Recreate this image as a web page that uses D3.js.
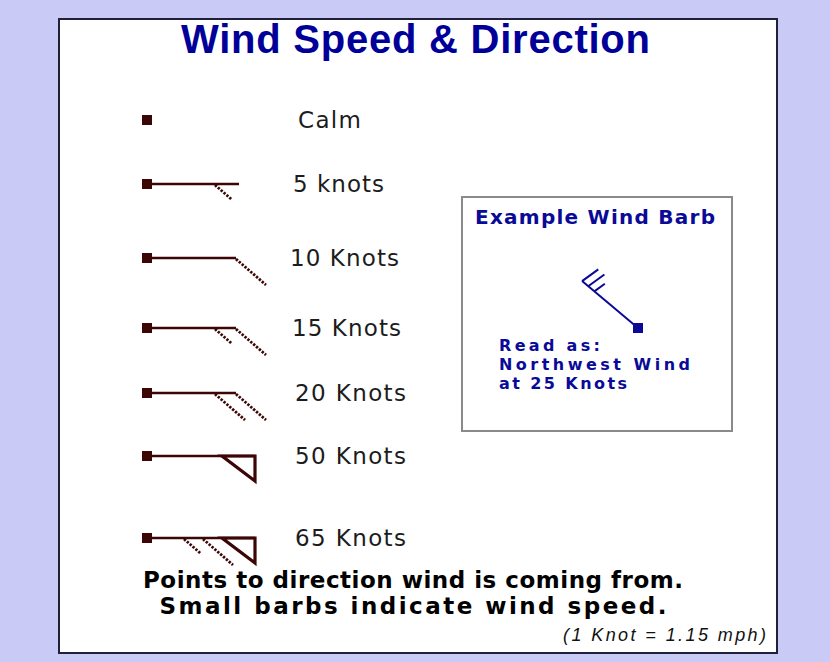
<!DOCTYPE html>
<html lang="en">
<head>
    <meta charset="UTF-8">
    <title>Wind Speed &amp; Direction</title>
    <script src="https://d3js.org/d3.v7.min.js"></script>
    <style>
        body { margin: 0; background: #cacaf6; }
        svg { display: block; }
    </style>
</head>
<body>
    <svg id="chart" width="830" height="662"></svg>

    <script>
        // Legend rows: label and wind speed in knots
        const rowLabels = ["Calm", "5 knots", "10 Knots", "15 Knots", "20 Knots", "50 Knots", "65 Knots"];
        const rowKnots = [0, 5, 10, 15, 20, 50, 65];

        // Example barb
        const exampleTitle = "Example Wind Barb";
        const exampleKnots = 25;
        const exampleDirection = 310; // degrees, direction wind comes from
        const exampleLines = ["Read as:", "Northwest Wind", "at 25 Knots"];

        const titleText = "Wind Speed & Direction";
        const footerLines = ["Points to direction wind is coming from.", "Small barbs indicate wind speed."];
        const noteText = "(1 Knot = 1.15 mph)";

        const svg = d3.select("#chart");
        const barbColor = "#3c0606";
        const blue = "#0a0a98";

        // white panel
        svg.append("rect")
            .attr("x", 59).attr("y", 19)
            .attr("width", 718).attr("height", 634)
            .attr("fill", "#fff")
            .attr("stroke", "#20203a")
            .attr("stroke-width", 2);

        svg.append("text")
            .attr("x", 181).attr("y", 53)
            .attr("textLength", 469)
            .attr("font-family", "Liberation Sans, Arial, sans-serif")
            .attr("font-weight", "bold")
            .attr("font-size", 40)
            .attr("fill", "#000099")
            .text(titleText);

        // row positions
        const y = d3.scaleOrdinal().domain(rowLabels).range([120, 184, 258, 328, 393, 456, 538]);
        const labelX = d3.scaleOrdinal().domain(rowLabels).range([298, 293, 290, 292, 295, 295, 295]);
        const labelW = d3.scaleOrdinal().domain(rowLabels).range([63, 91, 109, 109, 111, 111, 111]);

        const rows = rowLabels.map((label, i) => ({ label, knots: rowKnots[i] }));

        const rowG = svg.selectAll("g.row")
            .data(rows)
            .enter().append("g")
            .attr("class", "row")
            .attr("transform", d => `translate(0, ${y(d.label)})`);

        const originX = 147;
        rowG.each(function (d) {
            const g = d3.select(this);
            const pennants = Math.floor(d.knots / 50);
            const rest = d.knots % 50;
            const longs = Math.floor(rest / 10);
            const shorts = (rest % 10) >= 5 ? 1 : 0;
            let tipX = pennants > 0 ? 255 : 236;
            if (pennants === 0 && longs === 0) tipX = 239;

            if (d.knots > 0) {
                g.append("line")
                    .attr("x1", originX).attr("y1", 0)
                    .attr("x2", tipX).attr("y2", 0)
                    .attr("stroke", barbColor)
                    .attr("stroke-width", 2.6);
            }

            let pos = tipX;
            for (let i = 0; i < pennants; i++) {
                g.append("path")
                    .attr("d", `M${pos - 33},0 L${pos},0 L${pos},25 Z`)
                    .attr("fill", "none")
                    .attr("stroke", barbColor)
                    .attr("stroke-width", 3.2)
                    .attr("stroke-linejoin", "miter");
                pos -= 52;
            }
            if (pennants === 0 && longs === 0) pos = 215;
            const barbs = [];
            for (let i = 0; i < longs; i++) barbs.push(1);
            for (let i = 0; i < shorts; i++) barbs.push(0.54);
            barbs.forEach(s => {
                g.append("line")
                    .attr("x1", pos).attr("y1", 1)
                    .attr("x2", pos + 30 * s).attr("y2", 1 + 26 * s)
                    .attr("stroke", barbColor)
                    .attr("stroke-width", 2.8)
                    .attr("stroke-dasharray", "2.4 1.4");
                pos -= pennants > 0 ? 19 : 21;
            });

            g.append("rect")
                .attr("x", originX - 5).attr("y", -5)
                .attr("width", 10).attr("height", 10)
                .attr("fill", barbColor);

            g.append("text")
                .attr("x", labelX(d.label))
                .attr("y", 0)
                .attr("dy", "0.36em")
                .attr("textLength", labelW(d.label))
                .attr("font-family", "DejaVu Sans, Verdana, sans-serif")
                .attr("font-size", 23)
                .attr("fill", "#1c1c1c")
                .text(d.label);
        });

        // example box
        svg.append("rect")
            .attr("x", 462).attr("y", 197)
            .attr("width", 270).attr("height", 234)
            .attr("fill", "#fff")
            .attr("stroke", "#8a8a8a")
            .attr("stroke-width", 2);

        svg.append("text")
            .attr("x", 475).attr("y", 217).attr("dy", "0.36em")
            .attr("textLength", 240)
            .attr("font-family", "DejaVu Sans, Verdana, sans-serif")
            .attr("font-weight", "bold")
            .attr("font-size", 20)
            .attr("fill", blue)
            .text(exampleTitle);

        // example barb, staff points toward where the wind comes from
        const ex = { x: 638, y: 328 };
        const rad = exampleDirection * Math.PI / 180;
        const ux = Math.sin(rad), uy = -Math.cos(rad);
        const staffLen = 73;
        const tip = { x: ex.x + ux * staffLen, y: ex.y + uy * staffLen };
        const exG = svg.append("g");
        exG.append("line")
            .attr("x1", ex.x).attr("y1", ex.y)
            .attr("x2", tip.x).attr("y2", tip.y)
            .attr("stroke", blue).attr("stroke-width", 2);
        const barbAng = Math.atan2(uy, ux) + 104 * Math.PI / 180;
        const exLongs = Math.floor(exampleKnots / 10);
        const exShorts = (exampleKnots % 10) >= 5 ? 1 : 0;
        const exBarbs = d3.range(exLongs).map(() => 20).concat(d3.range(exShorts).map(() => 13));
        exBarbs.forEach((len, i) => {
            const sx = tip.x - ux * 8 * i, sy = tip.y - uy * 8 * i;
            exG.append("line")
                .attr("x1", sx).attr("y1", sy)
                .attr("x2", sx + Math.cos(barbAng) * len)
                .attr("y2", sy + Math.sin(barbAng) * len)
                .attr("stroke", blue).attr("stroke-width", 2);
        });
        exG.append("rect")
            .attr("x", ex.x - 5).attr("y", ex.y - 5)
            .attr("width", 10).attr("height", 10)
            .attr("fill", blue);

        const exWidths = [101, 191, 128];
        svg.selectAll("text.read")
            .data(exampleLines)
            .enter().append("text")
            .attr("class", "read")
            .attr("x", 499)
            .attr("y", (d, i) => 345 + i * 19)
            .attr("dy", "0.36em")
            .attr("textLength", (d, i) => exWidths[i])
            .attr("font-family", "DejaVu Sans, Verdana, sans-serif")
            .attr("font-weight", "bold")
            .attr("font-size", 16)
            .attr("fill", blue)
            .text(d => d);

        // footer
        const footW = [540, 507];
        svg.selectAll("text.foot")
            .data(footerLines)
            .enter().append("text")
            .attr("class", "foot")
            .attr("x", 413)
            .attr("y", (d, i) => 580 + i * 26)
            .attr("dy", "0.36em")
            .attr("text-anchor", "middle")
            .attr("textLength", (d, i) => footW[i])
            .attr("font-family", "DejaVu Sans, Verdana, sans-serif")
            .attr("font-weight", "bold")
            .attr("font-size", 23)
            .attr("fill", "#000")
            .text(d => d);

        svg.append("text")
            .attr("x", 766).attr("y", 635).attr("dy", "0.36em")
            .attr("text-anchor", "end")
            .attr("textLength", 203)
            .attr("font-family", "Liberation Sans, Arial, sans-serif")
            .attr("font-style", "italic")
            .attr("font-size", 18)
            .attr("fill", "#111")
            .text(noteText);
    </script>
</body>
</html>
